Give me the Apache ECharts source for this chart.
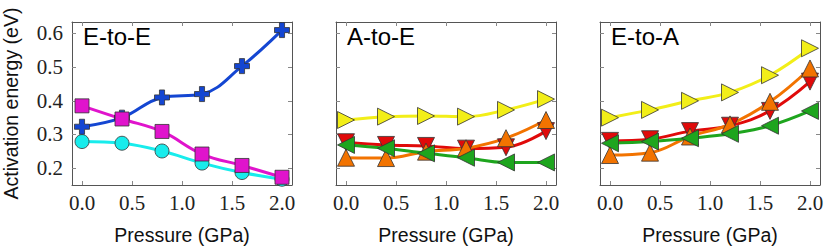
<!DOCTYPE html>
<html>
<head>
<meta charset="utf-8">
<script src="https://cdn.jsdelivr.net/npm/echarts@6/dist/echarts.min.js"></script>
<style>
html,body{margin:0;padding:0;background:#fff;}
#chart{width:830px;height:252px;}
</style>
</head>
<body>
<div id="chart"></div>
<script>
// ---- data ----
const pressure = [0.0, 0.4, 0.8, 1.2, 1.6, 2.0];
const xTicks = [0.0, 0.5, 1.0, 1.5, 2.0];
const yTicks = [0.2, 0.3, 0.4, 0.5, 0.6];
const panelTitles = ['E-to-E', 'A-to-E', 'E-to-A'];

// E-to-E
const eeCyan    = [0.279, 0.274, 0.251, 0.215, 0.187, 0.167];
const eeBlue    = [0.323, 0.350, 0.410, 0.420, 0.503, 0.610];
const eeMagenta = [0.385, 0.346, 0.309, 0.242, 0.208, 0.173];

// A-to-E
const aeYellow = [0.343, 0.353, 0.355, 0.353, 0.373, 0.405];
const aeRed    = [0.277, 0.269, 0.266, 0.258, 0.262, 0.310];
const aeOrange = [0.231, 0.230, 0.249, 0.259, 0.289, 0.343];
const aeGreen  = [0.269, 0.259, 0.244, 0.231, 0.217, 0.217];

// E-to-A
const eaYellow = [0.350, 0.373, 0.400, 0.425, 0.476, 0.556];
const eaRed    = [0.281, 0.286, 0.310, 0.326, 0.370, 0.457];
const eaOrange = [0.239, 0.246, 0.294, 0.330, 0.397, 0.496];
const eaGreen  = [0.274, 0.279, 0.289, 0.302, 0.326, 0.370];

// ---- styles ----
const SYM = {
  plus: 'path://M3.3,0 H6.7 V3.3 H10 V6.7 H6.7 V10 H3.3 V6.7 H0 V3.3 H3.3 Z',
  up: 'path://M5,0 L10,9 L0,9 Z',
  down: 'path://M0,0 L10,0 L5,9 Z',
  left: 'path://M9,0 L9,10 L0,5 Z',
  right: 'path://M0,0 L9,5 L0,10 Z',
  square: 'rect',
  circle: 'circle'
};
const COL = {
  cyan: '#18ecec', blue: '#1446d2', magenta: '#e014cc',
  yellow: '#f2ee18', red: '#e00a0a', orange: '#f27300', green: '#1ea51e'
};
const SERIF = "'Liberation Serif', 'DejaVu Serif', serif";
const SANS = "'Liberation Sans', Arial, sans-serif";

const lefts = [72, 336, 600];
const gridW = 220, gridTop = 22, gridH = 163;
const xMin = -0.1, xMax = 2.1, yMin = 0.15, yMax = 0.634;

const grids = [], xAxes = [], yAxes = [], titles = [];
const tickStyle = {show: true, inside: true, length: 4, lineStyle: {color: '#888', width: 1}};
const lineStyleBox = {show: true, onZero: false, lineStyle: {color: '#555', width: 1}};

for (let i = 0; i < 3; i++) {
  grids.push({left: lefts[i], top: gridTop, width: gridW, height: gridH, containLabel: false});
  xAxes.push({
    gridIndex: i, type: 'value', position: 'bottom', min: xMin, max: xMax,
    axisLine: lineStyleBox,
    axisTick: Object.assign({customValues: xTicks}, tickStyle),
    axisLabel: {show: true, customValues: xTicks, margin: 7,
      formatter: v => v.toFixed(1),
      fontFamily: SERIF, fontSize: 21, color: '#222'},
    splitLine: {show: false},
    name: 'Pressure (GPa)', nameLocation: 'middle', nameGap: 40,
    nameTextStyle: {fontFamily: SANS, fontSize: 19.5, color: '#111'}
  });
  xAxes.push({
    gridIndex: i, type: 'value', position: 'top', min: xMin, max: xMax,
    axisLine: lineStyleBox,
    axisTick: Object.assign({customValues: xTicks}, tickStyle),
    axisLabel: {show: false}, splitLine: {show: false}
  });
  yAxes.push({
    gridIndex: i, type: 'value', position: 'left', min: yMin, max: yMax,
    axisLine: lineStyleBox,
    axisTick: Object.assign({customValues: yTicks}, tickStyle),
    axisLabel: {show: i === 0, customValues: yTicks, margin: 9,
      formatter: v => v.toFixed(1),
      fontFamily: SERIF, fontSize: 21, color: '#222'},
    splitLine: {show: false},
    name: i === 0 ? 'Activation energy (eV)' : '',
    nameLocation: 'middle', nameGap: 51,
    nameTextStyle: {fontFamily: SANS, fontSize: 19.5, color: '#111'}
  });
  yAxes.push({
    gridIndex: i, type: 'value', position: 'right', min: yMin, max: yMax,
    axisLine: lineStyleBox,
    axisTick: Object.assign({customValues: yTicks}, tickStyle),
    axisLabel: {show: false}, splitLine: {show: false}
  });
  titles.push({
    text: panelTitles[i], left: lefts[i] + 11, top: 24,
    textStyle: {fontFamily: SANS, fontSize: 24, fontWeight: 'normal', color: '#000'},
    padding: 0
  });
}

function mk(panel, values, color, symbol, size) {
  return {
    type: 'line', xAxisIndex: panel * 2, yAxisIndex: panel * 2,
    data: pressure.map((p, k) => [p, values[k]]),
    smooth: 0.4,
    symbol: symbol, symbolSize: size, showSymbol: true,
    lineStyle: {color: color, width: 3},
    itemStyle: {color: color, borderColor: '#333', borderWidth: 0.8},
    emphasis: {disabled: true},
    animation: false
  };
}

const series = [
  mk(0, eeCyan, COL.cyan, SYM.circle, 14),
  mk(0, eeBlue, COL.blue, SYM.plus, 15),
  mk(0, eeMagenta, COL.magenta, SYM.square, 14),
  mk(1, aeYellow, COL.yellow, SYM.right, 17),
  mk(1, aeRed, COL.red, SYM.down, 17),
  mk(1, aeOrange, COL.orange, SYM.up, 17),
  mk(1, aeGreen, COL.green, SYM.left, 17),
  mk(2, eaYellow, COL.yellow, SYM.right, 17),
  mk(2, eaRed, COL.red, SYM.down, 17),
  mk(2, eaOrange, COL.orange, SYM.up, 17),
  mk(2, eaGreen, COL.green, SYM.left, 17)
];

const chart = echarts.init(document.getElementById('chart'), null, {renderer: 'svg'});
chart.setOption({
  animation: false,
  backgroundColor: '#fff',
  title: titles,
  grid: grids,
  xAxis: xAxes,
  yAxis: yAxes,
  series: series
});
</script>
</body>
</html>
